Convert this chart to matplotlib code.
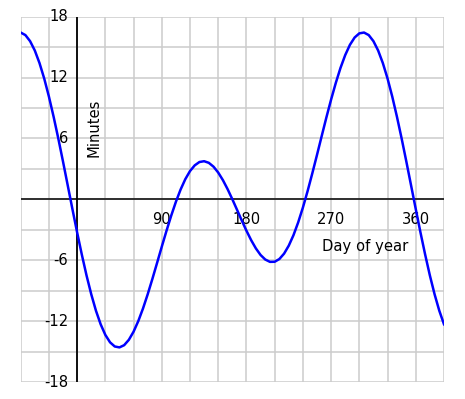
import numpy as np
import matplotlib
matplotlib.use('Agg')
import matplotlib.pyplot as plt

# day of year, read every 5 days from -60 to 390
days = list(range(-60, 391, 5))
minutes = [
    16.44, 16.19, 15.59, 14.67, 13.43, 11.91, 10.13, 8.14, 5.99, 3.72, 1.38, -0.96,
    -3.26, -5.45, -7.50, -9.35, -10.97, -12.31, -13.36, -14.09, -14.50, -14.59,
    -14.37, -13.84, -13.04, -12.00, -10.76, -9.36, -7.84, -6.26, -4.66, -3.10,
    -1.61, -0.24, 0.97, 1.99, 2.79, 3.35, 3.68, 3.76, 3.60, 3.22, 2.64, 1.89,
    1.00, 0.01, -1.03, -2.08, -3.09, -4.02, -4.83, -5.48, -5.93, -6.16, -6.15,
    -5.88, -5.35, -4.56, -3.53, -2.27, -0.81, 0.81, 2.56, 4.38, 6.24, 8.08,
    9.84, 11.48, 12.96, 14.22, 15.23, 15.95, 16.36, 16.44, 16.19, 15.59, 14.67,
    13.43, 11.91, 10.13, 8.14, 5.99, 3.72, 1.38, -0.96,
    -3.26, -5.45, -7.50, -9.35, -10.97, -12.31,
]

x_ticks = [90, 180, 270, 360]
y_ticks = [18, 12, 6, -6, -12, -18]

fig = plt.figure(figsize=(4.65, 3.99), dpi=100)
ax = fig.add_axes([0.0445, 0.0426, 0.9103, 0.9155])
ax.set_xlim(-60, 390)
ax.set_ylim(-18, 18)
ax.axis('off')

# grid
for gx in range(-60, 391, 30):
    ax.plot([gx, gx], [-18, 18], color='#cccccc', lw=1.1, zorder=1,
            solid_capstyle='butt')
for gy in range(-18, 19, 3):
    ax.plot([-60, 390], [gy, gy], color='#cccccc', lw=1.1, zorder=1,
            solid_capstyle='butt')

# axes through the origin
ax.plot([0, 0], [-18, 18], color='black', lw=1.3, zorder=2,
        solid_capstyle='butt')
ax.plot([-60, 390], [0, 0], color='black', lw=1.1, zorder=2,
        solid_capstyle='butt')

fs = 10.6
for v in y_ticks:
    ax.text(-9.5, v, str(v), ha='right', va='center', fontsize=fs, zorder=3)
for v in x_ticks:
    ax.text(v, -2.0, str(v), ha='center', va='center', fontsize=fs, zorder=3)

ax.text(306, -5.1, 'Day of year', ha='center', va='baseline',
        fontsize=fs, zorder=3)
ax.text(18.0, 7.1, 'Minutes', ha='center', va='center', rotation=90,
        fontsize=fs, zorder=3)

ax.plot(days, minutes, color='#0000ff', lw=1.8, zorder=4,
        solid_joinstyle='round')

fig.savefig('out.png', dpi=100)
